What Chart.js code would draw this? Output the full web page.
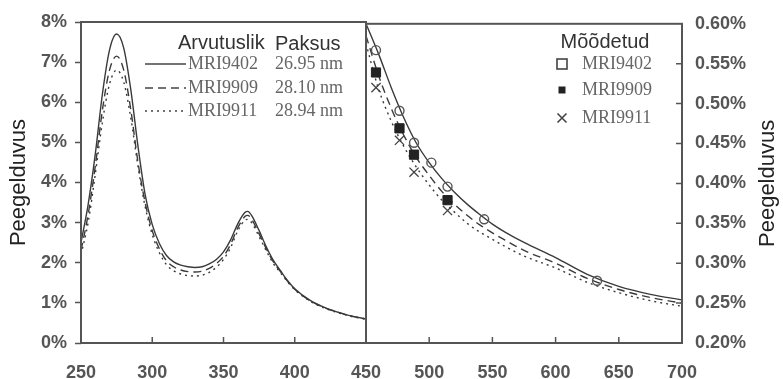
<!DOCTYPE html>
<html>
<head>
<meta charset="utf-8">
<script src="https://cdn.jsdelivr.net/npm/chart.js@4.4.0/dist/chart.umd.min.js"></script>
<style>
    html, body { margin: 0; padding: 0; background: #fff; }
    #wrap { position: relative; width: 783px; height: 379px; overflow: hidden; background: #fff; }
    #left-box { position: absolute; left: 0; top: 0; }
    #right-box { position: absolute; left: 330px; top: 0; }
</style>
</head>
<body>
<div id="wrap">
    <div id="left-box"><canvas id="left-chart" width="400" height="379"></canvas></div>
    <div id="right-box"><canvas id="right-chart" width="453" height="379"></canvas></div>
</div>
<script>
// left panel: calculated reflectance (%), 250-450 nm
const wlLeft = [250, 255, 260, 265, 270, 275, 280, 285, 290, 295, 300, 305, 310, 315, 320, 325, 330, 335, 340, 345,
    350, 355, 360, 365, 367, 370, 375, 380, 385, 390, 395, 400, 410, 420, 430, 440, 450];
const calc9402L = [2.5, 3.45, 4.7, 6.2, 7.3, 7.7, 7.35, 6.3, 4.9, 3.7, 2.95, 2.48, 2.18, 2.02, 1.94, 1.9, 1.88, 1.9, 1.97, 2.08,
    2.27, 2.57, 2.97, 3.25, 3.28, 3.16, 2.8, 2.4, 2.06, 1.8, 1.55, 1.35, 1.08, 0.9, 0.77, 0.67, 0.6];
const calc9909L = [2.3, 3.2, 4.4, 5.8, 6.8, 7.15, 6.8, 5.8, 4.5, 3.5, 2.8, 2.35, 2.05, 1.9, 1.82, 1.78, 1.77, 1.79, 1.86, 1.98,
    2.16, 2.46, 2.87, 3.15, 3.18, 3.07, 2.72, 2.35, 2.02, 1.78, 1.54, 1.34, 1.07, 0.89, 0.77, 0.67, 0.6];
const calc9911L = [2.2, 3.0, 4.2, 5.5, 6.45, 6.8, 6.5, 5.6, 4.4, 3.4, 2.7, 2.25, 1.95, 1.8, 1.72, 1.68, 1.67, 1.69, 1.76, 1.89,
    2.08, 2.38, 2.79, 3.06, 3.08, 2.99, 2.65, 2.3, 1.98, 1.75, 1.52, 1.33, 1.06, 0.88, 0.76, 0.66, 0.59];

// right panel: calculated reflectance (%), 450-700 nm
const wlRight = [450, 460, 470, 480, 490, 500, 510, 520, 530, 540, 550, 560, 575, 600, 625, 650, 675, 700];
const calc9402R = [0.600, 0.562, 0.520, 0.482, 0.450, 0.426, 0.406, 0.389, 0.374, 0.361, 0.349, 0.339, 0.326, 0.307, 0.286, 0.271, 0.261, 0.254];
const calc9909R = [0.585, 0.535, 0.494, 0.460, 0.432, 0.410, 0.390, 0.374, 0.360, 0.348, 0.338, 0.329, 0.316, 0.300, 0.281, 0.267, 0.257, 0.250];
const calc9911R = [0.575, 0.518, 0.478, 0.446, 0.420, 0.398, 0.379, 0.364, 0.350, 0.339, 0.330, 0.321, 0.309, 0.294, 0.276, 0.263, 0.253, 0.246];

// measured points (laser lines)
const measWl9402 = [457.9, 476.5, 488.0, 501.7, 514.5, 543.5, 632.8];
const meas9402 = [0.567, 0.491, 0.451, 0.426, 0.396, 0.355, 0.278];
const measWl9909 = [457.9, 476.5, 488.0, 514.5];
const meas9909 = [0.539, 0.469, 0.436, 0.379];
const measWl9911 = [457.9, 476.5, 488.0, 514.5];
const meas9911 = [0.520, 0.454, 0.414, 0.366];

const samples = ['MRI9402', 'MRI9909', 'MRI9911'];
const thickness = ['26.95 nm', '28.10 nm', '28.94 nm'];
const yTitle = 'Peegelduvus';

const SANS = '"Liberation Sans", Arial, sans-serif';
const SERIF = '"Liberation Serif", "Times New Roman", serif';
const AXIS = '#555';
const LINE = '#3a3a3a';
const dashes = [[], [8, 5], [2, 4]];

const pts = (xs, ys) => xs.map((x, i) => ({ x: x, y: ys[i] }));

function lineSet(xs, ys, k) {
    return {
        data: pts(xs, ys),
        borderColor: LINE,
        borderWidth: 1.4,
        borderDash: dashes[k],
        pointRadius: 0,
        cubicInterpolationMode: 'monotone',
        fill: false
    };
}

const tickFont = { family: SANS, size: 18, weight: 'bold' };

// frame around plot area + inward tick marks
function framePlugin(innerX, innerY) {
    return {
        id: 'frame',
        afterDatasetsDraw(chart) {
            const ctx = chart.ctx;
            const a = chart.chartArea;
            ctx.save();
            ctx.strokeStyle = AXIS;
            ctx.lineWidth = 2;
            ctx.strokeRect(a.left, a.top, a.right - a.left, a.bottom - a.top);
            ctx.lineWidth = 1.5;
            ctx.beginPath();
            innerX.forEach(v => {
                const px = chart.scales.x.getPixelForValue(v);
                ctx.moveTo(px, a.bottom);
                ctx.lineTo(px, a.bottom - 6);
            });
            innerY.forEach(v => {
                const py = chart.scales.y.getPixelForValue(v);
                ctx.moveTo(a.right, py);
                ctx.lineTo(a.right - 6, py);
            });
            ctx.stroke();
            ctx.restore();
        }
    };
}

const leftLegend = {
    id: 'leftLegend',
    afterDraw(chart) {
        const ctx = chart.ctx;
        const rows = [64, 88, 111];
        ctx.save();
        ctx.fillStyle = '#333';
        ctx.textBaseline = 'middle';
        ctx.font = '20px ' + SANS;
        ctx.fillText('Arvutuslik', 178, 43);
        ctx.fillText('Paksus', 275, 44);
        ctx.font = '18px ' + SERIF;
        ctx.fillStyle = '#666';
        ctx.strokeStyle = '#444';
        ctx.lineWidth = 1.4;
        rows.forEach((y, k) => {
            ctx.setLineDash(dashes[k]);
            ctx.beginPath();
            ctx.moveTo(145, y);
            ctx.lineTo(186, y);
            ctx.stroke();
            ctx.fillText(samples[k], 188, y);
            ctx.fillText(thickness[k], 275, y);
        });
        ctx.restore();
    }
};

const rightLegend = {
    id: 'rightLegend',
    afterDraw(chart) {
        const ctx = chart.ctx;
        const ox = 330;
        const rows = [64, 90, 118];
        const sx = 562 - ox;
        ctx.save();
        ctx.textBaseline = 'middle';
        ctx.fillStyle = '#333';
        ctx.font = '20px ' + SANS;
        ctx.textAlign = 'center';
        ctx.fillText('Mõõdetud', 605 - ox, 42);
        ctx.textAlign = 'left';
        ctx.font = '18px ' + SERIF;
        ctx.fillStyle = '#666';
        rows.forEach((y, k) => ctx.fillText(samples[k], 582 - ox, y));
        // symbols
        ctx.strokeStyle = '#444';
        ctx.lineWidth = 1.6;
        ctx.strokeRect(sx - 5, rows[0] - 5, 10, 10);
        ctx.fillStyle = '#222';
        ctx.fillRect(sx - 3.5, rows[1] - 3.5, 7, 7);
        ctx.beginPath();
        ctx.moveTo(sx - 4.5, rows[2] - 4.5); ctx.lineTo(sx + 4.5, rows[2] + 4.5);
        ctx.moveTo(sx + 4.5, rows[2] - 4.5); ctx.lineTo(sx - 4.5, rows[2] + 4.5);
        ctx.stroke();
        // right axis title, reading bottom to top
        const a = chart.chartArea;
        ctx.translate(768 - ox, (a.top + a.bottom) / 2);
        ctx.rotate(-Math.PI / 2);
        ctx.textAlign = 'center';
        ctx.fillStyle = '#222';
        ctx.font = '22px ' + SANS;
        ctx.fillText(yTitle, 0, 0);
        ctx.restore();
    }
};

const leftChart = new Chart(document.getElementById('left-chart').getContext('2d'), {
    type: 'line',
    data: {
        datasets: [
            lineSet(wlLeft, calc9402L, 0),
            lineSet(wlLeft, calc9909L, 1),
            lineSet(wlLeft, calc9911L, 2)
        ]
    },
    options: {
        responsive: false,
        animation: false,
        layout: { padding: { top: 22, right: 34, left: 0, bottom: 0 } },
        plugins: { legend: { display: false }, tooltip: { enabled: false } },
        scales: {
            x: {
                type: 'linear', min: 250, max: 450,
                grid: { display: false, drawTicks: false },
                border: { display: false },
                ticks: { stepSize: 50, padding: 19, color: AXIS, font: tickFont,
                    callback: v => (v === 450 ? '' : v) },
                afterFit: s => { s.height = 36; }
            },
            y: {
                min: 0, max: 8,
                grid: { drawOnChartArea: false, drawTicks: true, tickLength: 6, tickColor: AXIS, tickWidth: 1.5 },
                border: { display: false },
                ticks: { stepSize: 1, padding: 8, color: AXIS, font: tickFont, callback: v => v + '%' },
                title: { display: true, text: yTitle, color: '#222', font: { family: SANS, size: 22 },
                    padding: { top: 6, bottom: 0 } },
                afterFit: s => { s.width = 81; }
            }
        }
    },
    plugins: [framePlugin([300, 350, 400], []), leftLegend]
});

const rightChart = new Chart(document.getElementById('right-chart').getContext('2d'), {
    type: 'line',
    data: {
        datasets: [
            {
                data: pts(measWl9402, meas9402), showLine: false,
                pointStyle: 'circle', pointRadius: 4.5, pointBorderWidth: 1.4,
                pointBorderColor: '#555', pointBackgroundColor: 'rgba(255,255,255,0)'
            },
            {
                data: pts(measWl9909, meas9909), showLine: false,
                pointStyle: 'rect', pointRadius: 6.5, pointBorderWidth: 1,
                pointBorderColor: '#222', pointBackgroundColor: '#222'
            },
            {
                data: pts(measWl9911, meas9911), showLine: false,
                pointStyle: 'crossRot', pointRadius: 6.5, pointBorderWidth: 1.3,
                pointBorderColor: '#444'
            },
            lineSet(wlRight, calc9402R, 0),
            lineSet(wlRight, calc9909R, 1),
            lineSet(wlRight, calc9911R, 2)
        ]
    },
    options: {
        responsive: false,
        animation: false,
        layout: { padding: { top: 22, right: 0, left: 36, bottom: 0 } },
        plugins: { legend: { display: false }, tooltip: { enabled: false } },
        scales: {
            x: {
                type: 'linear', min: 450, max: 700,
                grid: { display: false, drawTicks: false },
                border: { display: false },
                ticks: { stepSize: 50, padding: 19, color: AXIS, font: tickFont },
                afterFit: s => { s.height = 36; }
            },
            y: {
                position: 'right', min: 0.2, max: 0.6,
                grid: { display: false, drawTicks: false },
                border: { display: false },
                ticks: { stepSize: 0.05, padding: 13, color: AXIS, font: tickFont,
                    callback: v => v.toFixed(2) + '%' },
                afterFit: s => { s.width = 101; }
            }
        }
    },
    plugins: [framePlugin([500, 550, 600, 650], [0.25, 0.3, 0.35, 0.4, 0.45, 0.5, 0.55]), rightLegend]
});
</script>
</body>
</html>
